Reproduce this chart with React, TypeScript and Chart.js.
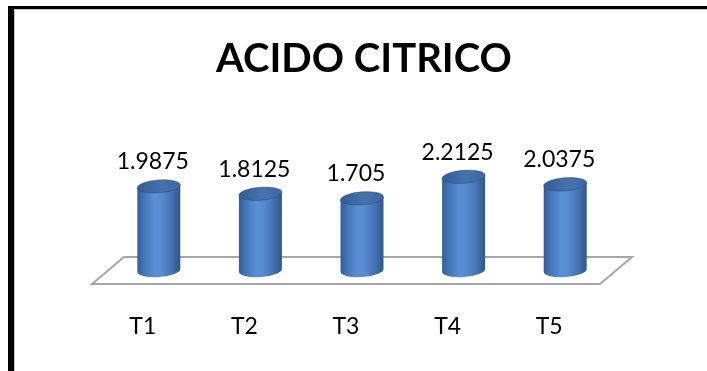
import React, { useEffect, useRef } from "react";
import { Chart, registerables } from "chart.js";

Chart.register(...registerables);

const TITLE = "ACIDO CITRICO";
const CATEGORIES = ["T1", "T2", "T3", "T4", "T5"];
const VALUES = [1.9875, 1.8125, 1.705, 2.2125, 2.0375];
const Y_MIN = 0;
const Y_MAX = 3;

// Depth of the 3D floor (back edge offset from the front edge)
const DEPTH_DX = 32;
const DEPTH_DY = -27;
const ELLIPSE_RY = 6.5;
const ELLIPSE_ROT = -0.075;

function ellipsePoint(cx: number, cy: number, rx: number, ry: number, rot: number, t: number) {
  return {
    x: cx + rx * Math.cos(t) * Math.cos(rot) - ry * Math.sin(t) * Math.sin(rot),
    y: cy + rx * Math.cos(t) * Math.sin(rot) + ry * Math.sin(t) * Math.cos(rot),
  };
}

const cylinderPlugin = {
  id: "cylinders",
  beforeDraw(chart: any) {
    const ctx = chart.ctx;
    ctx.save();
    ctx.fillStyle = "#ffffff";
    ctx.fillRect(0, 0, chart.width, chart.height);
    // outer frame
    ctx.fillStyle = "#000000";
    ctx.fillRect(8, 6, chart.width - 8, 3);
    ctx.fillRect(8, 6, 6, chart.height - 6);
    ctx.fillStyle = "#c4c4c4";
    ctx.fillRect(14, 9, 1, chart.height - 9);
    ctx.fillRect(14, 9, chart.width - 14, 1);
    // title
    ctx.fillStyle = "#000000";
    ctx.font = "bold 40px Lato";
    ctx.textAlign = "center";
    ctx.textBaseline = "alphabetic";
    ctx.fillText(TITLE, 364, 72);
    ctx.restore();
  },
  beforeDatasetsDraw(chart: any) {
    const ctx = chart.ctx;
    const area = chart.chartArea;
    const y0 = chart.scales.y.getPixelForValue(0);
    ctx.save();
    ctx.strokeStyle = "#a6a6a6";
    ctx.lineWidth = 2;
    ctx.beginPath();
    ctx.moveTo(area.left, y0);
    ctx.lineTo(area.right, y0);
    ctx.lineTo(area.right + DEPTH_DX, y0 + DEPTH_DY);
    ctx.lineTo(area.left + DEPTH_DX, y0 + DEPTH_DY);
    ctx.closePath();
    ctx.stroke();
    ctx.restore();
  },
  afterDatasetsDraw(chart: any) {
    const ctx = chart.ctx;
    const meta = chart.getDatasetMeta(0);
    const values = chart.data.datasets[0].data as number[];
    ctx.save();
    meta.data.forEach((bar: any, i: number) => {
      const rx = bar.width / 2;
      const ry = ELLIPSE_RY;
      const rot = ELLIPSE_ROT;
      const cx = bar.x + DEPTH_DX / 2;
      const topY = bar.y + DEPTH_DY / 2;
      const baseY = bar.base + DEPTH_DY / 2;

      const tl = ellipsePoint(cx, topY, rx, ry, rot, Math.PI);
      const tr = ellipsePoint(cx, topY, rx, ry, rot, 0);
      const bl = ellipsePoint(cx, baseY, rx, ry, rot, Math.PI);

      const body = ctx.createLinearGradient(cx - rx, 0, cx + rx, 0);
      body.addColorStop(0, "#335d98");
      body.addColorStop(0.15, "#4274b6");
      body.addColorStop(0.4, "#5b8ed5");
      body.addColorStop(0.55, "#588bd1");
      body.addColorStop(0.8, "#4473b3");
      body.addColorStop(1, "#2e5689");

      ctx.beginPath();
      ctx.moveTo(tl.x, tl.y);
      ctx.lineTo(bl.x, bl.y);
      ctx.ellipse(cx, baseY, rx, ry, rot, Math.PI, 0, true);
      ctx.lineTo(tr.x, tr.y);
      ctx.closePath();
      ctx.fillStyle = body;
      ctx.fill();

      const top = ctx.createLinearGradient(cx - rx, 0, cx + rx, 0);
      top.addColorStop(0, "#325d95");
      top.addColorStop(0.55, "#4672ae");
      top.addColorStop(1, "#3d68a2");
      ctx.beginPath();
      ctx.ellipse(cx, topY, rx, ry, rot, 0, Math.PI * 2);
      ctx.fillStyle = top;
      ctx.fill();
      ctx.strokeStyle = "rgba(40,74,126,0.5)";
      ctx.lineWidth = 1;
      ctx.stroke();

      // value label above the cylinder
      ctx.fillStyle = "#000000";
      ctx.font = "23px Lato";
      ctx.textAlign = "center";
      ctx.textBaseline = "middle";
      ctx.fillText(String(values[i]), cx - 6, topY - ry - 18);
    });
    ctx.restore();
  },
};

export default function App() {
  const canvasRef = useRef<HTMLCanvasElement>(null);

  useEffect(() => {
    if (!canvasRef.current) return;
    const chart = new Chart(canvasRef.current, {
      type: "bar",
      data: {
        labels: CATEGORIES,
        datasets: [
          {
            data: VALUES,
            backgroundColor: "rgba(0,0,0,0)",
            borderWidth: 0,
            barPercentage: 0.53,
            categoryPercentage: 0.8,
          },
        ],
      },
      options: {
        responsive: false,
        animation: false,
        devicePixelRatio: 1,
        layout: { padding: { left: 92, right: 107, top: 157, bottom: 0 } },
        plugins: {
          legend: { display: false },
          tooltip: { enabled: false },
          title: { display: false },
        },
        scales: {
          x: {
            grid: { display: false, drawTicks: false },
            border: { display: false },
            ticks: {
              color: "#000000",
              font: { family: "Lato", size: 23 },
              padding: 29,
            },
            afterFit: (scale: any) => {
              scale.height = 87;
            },
          },
          y: { display: false, min: Y_MIN, max: Y_MAX },
        },
      },
      plugins: [cylinderPlugin],
    } as any);
    return () => chart.destroy();
  }, []);

  return (
    <div style={{ position: "absolute", left: 0, top: 0, width: 707, height: 371, background: "#ffffff" }}>
      <canvas ref={canvasRef} width={707} height={371} style={{ display: "block" }} />
    </div>
  );
}
